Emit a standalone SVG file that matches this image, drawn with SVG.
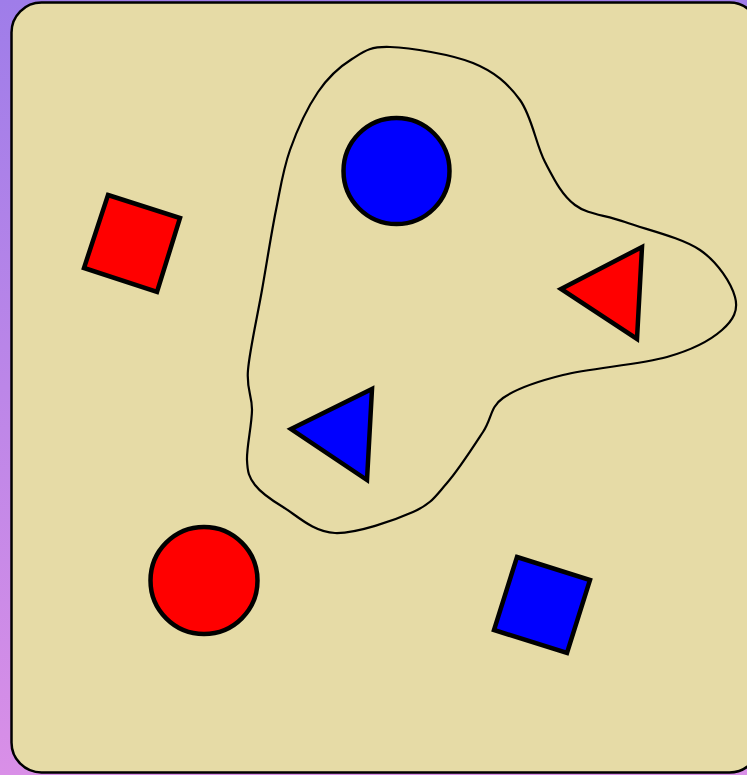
<svg xmlns="http://www.w3.org/2000/svg" width="747" height="775" viewBox="0 0 747 775">
<defs>
<linearGradient id="bg" x1="0" y1="0" x2="0" y2="1">
<stop offset="0" stop-color="#9f7de9"/>
<stop offset="1" stop-color="#d98fe7"/>
</linearGradient>
<style>
.shape{stroke:#000;stroke-width:4.5;stroke-linejoin:miter}
.red{fill:#ff0000}
.blue{fill:#0000ff}
</style>
</defs>
<rect x="0" y="0" width="747" height="775" fill="url(#bg)"/>
<rect id="board" x="11.5" y="2.5" width="748" height="770" rx="30" ry="30" fill="#e6dba6" stroke="#000" stroke-width="2.5"/>
<g id="connectors">
<path id="blob" fill="none" stroke="#000" stroke-width="2.2" d="M390,47 C410.2,47.7 451.3,54.2 473,63 C494.7,71.8 508,83.5 520,100 C532,116.5 535.8,144.5 545,162 C554.2,179.5 561.7,195 575,205 C588.3,215 604.2,214.5 625,222 C645.8,229.5 681.7,237.5 700,250 C718.3,262.5 731.3,283.7 735,297 C738.7,310.3 733.3,320 722,330 C710.7,340 693.5,349.5 667,357 C640.5,364.5 590.3,368.2 563,375 C535.7,381.8 516.3,388.5 503,398 C489.7,407.5 492.3,417.8 483,432 C473.7,446.2 458.7,469.7 447,483 C435.3,496.3 431.7,503.7 413,512 C394.3,520.3 356.7,533.8 335,533 C313.3,532.2 296.3,515 283,507 C269.7,499 261,492.8 255,485 C249,477.2 247.5,472.5 247,460 C246.5,447.5 251.8,425 252,410 C252.2,395 246.3,390 248,370 C249.7,350 257.3,316.7 262,290 C266.7,263.3 271.3,233.3 276,210 C280.7,186.7 283,169.7 290,150 C297,130.3 307.7,107.2 318,92 C328.3,76.8 340,66.5 352,59 C364,51.5 369.8,46.3 390,47 Z"/>
</g>
<g id="red-square"><polygon class="shape red" points="108,195 180,218 157,292 84,268"/></g>
<g id="blue-circle"><circle class="shape blue" cx="396.5" cy="171" r="53"/></g>
<g id="red-triangle"><polygon class="shape red" points="561,289 642,247 637,339"/></g>
<g id="blue-triangle"><polygon class="shape blue" points="291,429 372,389 367,480"/></g>
<g id="red-circle"><circle class="shape red" cx="204" cy="580.5" r="53.5"/></g>
<g id="blue-square"><polygon class="shape blue" points="517,557 590,580 567,653 494,630"/></g>
</svg>
